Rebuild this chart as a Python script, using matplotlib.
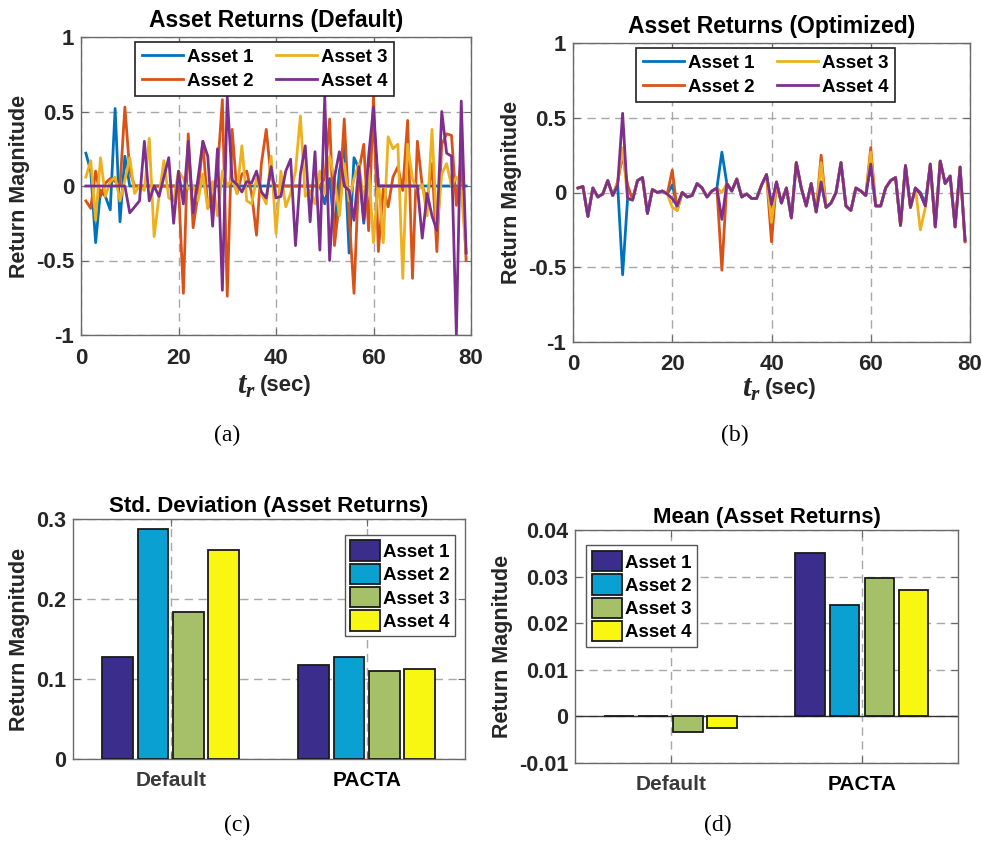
import matplotlib
matplotlib.use("Agg")
import matplotlib.pyplot as plt
import numpy as np

plt.rcParams['font.family'] = ['Liberation Sans', 'DejaVu Sans']
plt.rcParams['font.weight'] = 'bold'
plt.rcParams['mathtext.fontset'] = 'custom'
plt.rcParams['mathtext.bfit'] = 'Liberation Serif:italic:bold'
plt.rcParams['mathtext.it'] = 'Liberation Serif:italic:bold'

# ---- data ----
t = list(range(1, 80))
assets = ['Asset 1', 'Asset 2', 'Asset 3', 'Asset 4']

# (a) default returns
def_a1 = [0.22, 0.10, -0.38, -0.03, -0.07, -0.16, 0.52, -0.24, 0.20, 0.0,
          0, 0, 0, 0, 0, 0, 0, 0, 0, 0,
          0, 0, 0, 0, 0, 0, 0, 0, 0, 0,
          0, 0, 0, 0, 0, 0, 0, 0, 0, 0,
          0, 0, 0, 0, 0, 0, 0, 0, 0, -0.12,
          0.05, -0.30, 0.10, 0.27, -0.45, 0.19, 0.12, -0.25, 0.10, 0.40,
          0, 0, 0, 0, 0, 0, 0, 0, 0, 0,
          0, 0, 0, 0, 0, 0, 0, 0, 0]
def_a2 = [-0.10, -0.15, 0.10, -0.07, 0.02, 0.05, 0.03, 0.0, 0.53, 0.10,
          0, 0, 0, 0, 0, 0, 0, 0, 0, 0,
          -0.72, 0.35, -0.28, -0.05, 0.30, -0.15, -0.10, 0.10, 0.58, -0.74,
          0.38, -0.05, 0.08, 0.10, -0.05, -0.33, 0.15, 0.38, 0.05, 0.0,
          0, 0, 0, 0, 0, 0, 0, 0, 0, 0.05,
          0.45, -0.40, -0.10, 0.45, -0.20, -0.72, 0.10, 0.28, -0.30, 0.60,
          -0.44, -0.02, -0.14, 0.06, 0.13, -0.03, 0.44, -0.62, 0.30, 0.0,
          -0.10, 0.15, -0.44, 0.28, 0.35, 0.34, -0.13, 0.20, -0.50]
def_a3 = [0.06, 0.17, -0.23, 0.19, -0.07, 0.03, 0.06, -0.10, 0.04, 0.19,
          -0.05, 0.0, -0.03, 0.32, -0.34, -0.07, 0.17, -0.08, -0.10, 0.10,
          0.05, -0.02, 0.0, -0.10, 0.08, -0.15, 0.03, -0.20, 0.10, 0.0,
          0.05, -0.05, 0.27, -0.10, -0.12, 0.05, -0.05, -0.12, 0.20, -0.32,
          0.10, -0.14, -0.05, 0.10, 0.47, -0.07, -0.03, -0.12, 0.10, -0.05,
          0.20, 0.05, -0.20, 0.15, -0.10, 0.05, 0.15, -0.10, 0.12, -0.38,
          0.05, -0.38, 0.33, 0.25, 0.28, -0.62, 0.28, 0.05, -0.03, 0.01,
          -0.20, 0.38, -0.30, 0.08, 0.15, 0.0, 0.06, -0.03, -0.45]
def_a4 = [0, 0, 0, 0, 0, 0, 0, 0, 0, -0.18,
          -0.14, -0.10, 0.30, -0.10, 0.0, -0.07, 0.06, 0.19, -0.25, 0.10,
          -0.12, 0.30, -0.18, 0.05, 0.30, 0.20, -0.27, 0.25, -0.70, 0.60,
          0.04, 0.01, -0.04, 0.03, 0.02, 0.10, -0.04, -0.08, 0.13, -0.08,
          -0.07, 0.10, 0.18, -0.40, 0.08, 0.27, -0.24, 0.23, -0.43, 0.60,
          -0.50, 0.06, 0.23, 0.0, -0.03, -0.23, 0.13, -0.23, 0.20, 0.53,
          0, 0, 0, 0, 0, 0, 0, 0, 0, -0.35,
          -0.05, -0.20, -0.30, 0.50, 0.22, 0.20, -1.00, 0.57, -0.45]

# (b) optimized returns: asset 4 shown fully, other assets follow it except where they spike
opt_a4 = [0.03, 0.04, -0.16, 0.03, -0.03, -0.01, 0.08, -0.02, 0.05, 0.53,
          -0.04, -0.05, 0.08, 0.10, -0.14, 0.02, 0.0, 0.01, -0.01, -0.04,
          -0.09, 0.0, -0.03, -0.02, 0.06, 0.03, -0.03, 0.01, 0.03, -0.18,
          0.06, 0.01, 0.09, -0.03, -0.01, -0.04, -0.04, 0.05, 0.12, -0.08,
          0.07, -0.07, 0.03, -0.17, 0.20, 0.03, -0.09, 0.06, -0.13, 0.07,
          -0.10, -0.07, 0.0, 0.20, -0.09, -0.12, 0.03, 0.01, -0.02, 0.19,
          -0.09, -0.09, 0.03, 0.08, 0.10, -0.22, 0.18, -0.10, 0.03, -0.01,
          -0.09, 0.19, -0.23, 0.21, 0.06, 0.11, -0.23, 0.17, -0.32]
opt_a1_spikes = {10: -0.55, 20: 0.05, 30: 0.27, 40: -0.10, 70: 0.0, 71: -0.07}
opt_a2_spikes = {9: 0.07, 10: 0.25, 11: 0.05, 20: 0.15, 21: -0.12, 30: -0.52,
                 40: -0.33, 50: 0.25, 60: 0.30, 79: -0.33}
opt_a3_spikes = {9: 0.07, 10: 0.30, 20: -0.10, 21: -0.12, 30: 0.0, 40: -0.20,
                 50: 0.20, 60: 0.27, 70: -0.25, 71: -0.10}

# (c) std deviation, (d) mean
groups = ['Default', 'PACTA']
std_vals = [[0.128, 0.118], [0.288, 0.128], [0.184, 0.110], [0.261, 0.113]]
mean_vals = [[0.0, 0.0350], [0.0, 0.0239], [-0.0033, 0.0296], [-0.0025, 0.0272]]

line_colors = ['#0072BD', '#D95319', '#EDB120', '#7E2F8E']
bar_colors = ['#3A2D8C', '#0AA0D2', '#A6C06A', '#F7F712']


def with_spikes(base, spikes):
    s = list(base)
    for k, v in spikes.items():
        s[k - 1] = v
    return s


opt_series = [with_spikes(opt_a4, opt_a1_spikes), with_spikes(opt_a4, opt_a2_spikes),
              with_spikes(opt_a4, opt_a3_spikes), opt_a4]
def_series = [def_a1, def_a2, def_a3, def_a4]

W, H = 982, 842
fig = plt.figure(figsize=(W / 100, H / 100), dpi=100)


def px_axes(l, top, r, b):
    return fig.add_axes([l / W, 1 - b / H, (r - l) / W, (b - top) / H])


def style(ax, size):
    ax.grid(True, color='#a8a8a8', linestyle=(0, (6, 4)), linewidth=1)
    ax.set_axisbelow(True)
    for sp in ax.spines.values():
        sp.set_color('#6a6a6a')
        sp.set_linewidth(1)
    ax.tick_params(direction='in', top=True, right=True, length=5,
                   labelsize=size, colors='#6a6a6a', labelcolor='#262626', pad=5)


def line_panel(ax, series, title, leg_x, t_pos, sec_pos):
    for s, c, name in zip(series, line_colors, assets):
        ax.plot(t, s, color=c, lw=2, label=name)
    ax.set_xlim(0, 80)
    ax.set_ylim(-1, 1)
    ax.set_xticks([0, 20, 40, 60, 80])
    ax.set_yticks([-1, -0.5, 0, 0.5, 1])
    ax.set_yticklabels(['-1', '-0.5', '0', '0.5', '1'])
    style(ax, 16)
    ax.tick_params(axis='x', pad=9)
    ax.set_title(title, fontsize=16.5, fontweight='bold', pad=7)
    ax.set_ylabel('Return Magnitude', fontsize=15.5, fontweight='bold', color='#262626',
                  labelpad=4)
    # x label: bold italic serif t_r followed by "(sec)"
    ax.text(t_pos[0], t_pos[1], r'$\mathbfit{t}_{\mathbfit{r}}$', transform=ax.transAxes,
            fontsize=22, ha='right', va='center', color='#262626')
    ax.text(sec_pos[0], sec_pos[1], '(sec)', transform=ax.transAxes,
            fontsize=16, fontweight='bold', ha='left', va='center', color='#262626')
    leg = ax.legend(ncol=2, loc='upper center', bbox_to_anchor=(leg_x, 0.995),
                    fontsize=13.5, frameon=True, fancybox=False, framealpha=1,
                    edgecolor='#222222', handlelength=2.2, handletextpad=0.2,
                    columnspacing=1.2, labelspacing=0.35, borderpad=0.35,
                    borderaxespad=0.2)
    leg.get_frame().set_linewidth(1.2)


def bar_panel(ax, vals, title, ylim, yticks, yticklabels, leg_loc, leg_anchor):
    x = np.arange(1, len(groups) + 1)
    offsets = [-0.272, -0.092, 0.09, 0.268]
    for v, off, c, name in zip(vals, offsets, bar_colors, assets):
        ax.bar(x + off, v, width=0.155, color=c, edgecolor='#1a1a1a',
               linewidth=1.3, label=name, zorder=3)
    ax.set_xlim(0.5, 2.5)
    ax.set_ylim(*ylim)
    ax.set_xticks(x)
    ax.set_xticklabels(groups)
    ax.set_yticks(yticks)
    ax.set_yticklabels(yticklabels)
    style(ax, 15.5)
    ax.tick_params(axis='x', labelsize=15, pad=9)
    ax.get_xticklabels()[0].set_color('#3a3a3a')
    ax.get_xticklabels()[1].set_color('black')
    ax.set_title(title, fontsize=16, fontweight='bold', pad=5)
    ax.set_ylabel('Return Magnitude', fontsize=15.5, fontweight='bold', color='#262626',
                  labelpad=4)
    leg = ax.legend(loc=leg_loc, bbox_to_anchor=leg_anchor, fontsize=13.5,
                    frameon=True, fancybox=False, framealpha=1, edgecolor='#555555',
                    handlelength=1.6, handleheight=1.3, handletextpad=0.15,
                    labelspacing=0.15, borderpad=0.3, borderaxespad=0.2)
    leg.get_frame().set_linewidth(1)


ax_a = px_axes(81, 37, 471, 335)
line_panel(ax_a, def_series, 'Asset Returns (Default)', 0.47,
           (0.449, -0.168), (0.459, -0.17))
ax_b = px_axes(573, 43, 970, 342)
line_panel(ax_b, opt_series, 'Asset Returns (Optimized)', 0.485,
           (0.473, -0.155), (0.483, -0.157))

ax_c = px_axes(73, 519, 465, 759)
bar_panel(ax_c, std_vals, 'Std. Deviation (Asset Returns)', (0, 0.3),
          [0, 0.1, 0.2, 0.3], ['0', '0.1', '0.2', '0.3'],
          'upper right', (0.985, 0.95))
ax_d = px_axes(575, 530, 958, 763)
bar_panel(ax_d, mean_vals, 'Mean (Asset Returns)', (-0.01, 0.04),
          [-0.01, 0, 0.01, 0.02, 0.03, 0.04],
          ['-0.01', '0', '0.01', '0.02', '0.03', '0.04'],
          'upper left', (0.02, 0.95))
ax_d.axhline(0, color='#333333', lw=1, zorder=2)

for lbl, xp, yp in [('(a)', 227, 435), ('(b)', 735, 435), ('(c)', 237, 825), ('(d)', 718, 825)]:
    fig.text(xp / W, 1 - yp / H, lbl, family='Liberation Serif', fontweight='normal',
             fontsize=17, ha='center', va='center')

fig.savefig('out.png', dpi=100)
